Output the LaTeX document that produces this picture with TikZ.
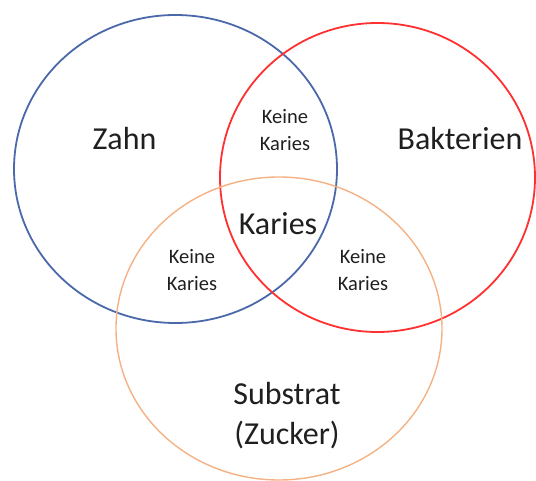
\documentclass[tikz,border=0pt]{standalone}
\usepackage{fontspec}
\setmainfont{Carlito}
\definecolor{zahnblue}{HTML}{4A68AA}
\definecolor{bakred}{HTML}{FF3030}
\definecolor{subpeach}{HTML}{F4B183}
\begin{document}
\begin{tikzpicture}[
        x=1pt, y=-1pt,
        ring/.style={line width=1.8pt},
        big/.style={font=\fontsize{32}{38}\selectfont, text=black!88, inner sep=0pt},
        small/.style={font=\fontsize{20.5}{27}\selectfont, text=black!88, align=center, inner sep=0pt},
        label/.style={font=\fontsize{32}{40}\selectfont, text=black!88, align=center, inner sep=0pt}
      ]
      \useasboundingbox (0,0) rectangle (536,481);
      \draw[ring, zahnblue] (175.5,169) ellipse [x radius=161.5, y radius=154];
      \draw[ring, bakred] (377.5,177.5) ellipse [x radius=157.5, y radius=154.5];
      \draw[ring, subpeach, line width=1.4pt] (279,328.5) ellipse [x radius=163, y radius=151.5];
      \node[big, anchor=base] (zahn) at (124.5,150) {Zahn};
      \node[big, anchor=base] (bakterien) at (460,150) {Bakterien};
      \node[big, anchor=base] (karies) at (278,235) {Karies};
      \node[small] (zb) at (285,130) {Keine\\Karies};
      \node[small] (zs) at (192,270) {Keine\\Karies};
      \node[small] (bs) at (363,270) {Keine\\Karies};
      \node[label] (substrat) at (287,416) {Substrat\\(Zucker)};
    \end{tikzpicture}
\end{document}
